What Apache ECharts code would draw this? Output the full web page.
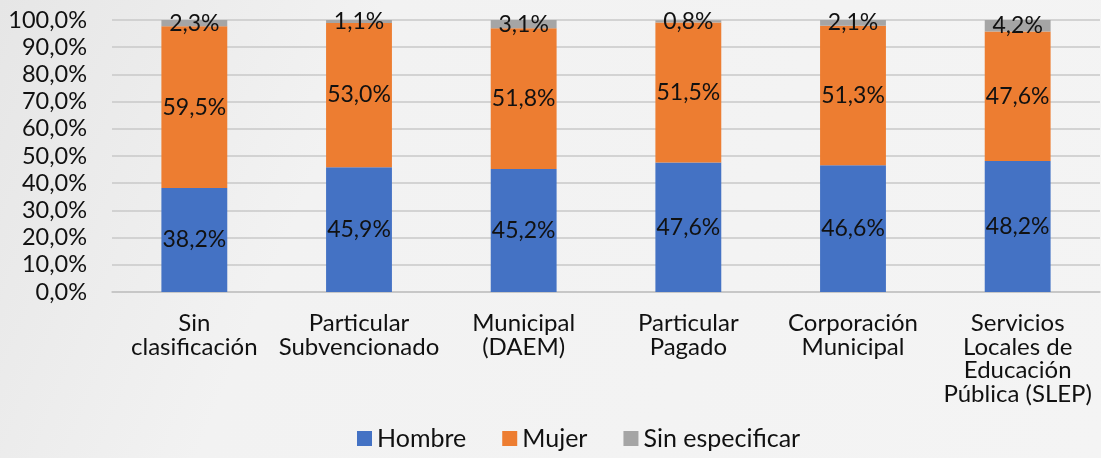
<!DOCTYPE html>
<html>
<head>
<meta charset="utf-8">
<script src="https://cdn.jsdelivr.net/npm/echarts@6/dist/echarts.min.js"></script>
<style>
  html, body { margin: 0; padding: 0; background: #f1f1f1; }
  #main { width: 1101px; height: 458px; }
</style>
</head>
<body>
<div id="main"></div>
<script>
const categories = [
  "Sin\nclasificación",
  "Particular\nSubvencionado",
  "Municipal\n(DAEM)",
  "Particular\nPagado",
  "Corporación\nMunicipal",
  "Servicios\nLocales de\nEducación\nPública (SLEP)"
];
const hombre = [38.2, 45.9, 45.2, 47.6, 46.6, 48.2];
const mujer = [59.5, 53.0, 51.8, 51.5, 51.3, 47.6];
const sinEspecificar = [2.3, 1.1, 3.1, 0.8, 2.1, 4.2];

const font = "Lato, 'Open Sans', sans-serif";
const pct = v => v.toFixed(1).replace(".", ",") + "%";

const chart = echarts.init(document.getElementById("main"));

function serie(name, data, color) {
  return {
    name: name,
    type: "bar",
    stack: "total",
    data: data,
    barWidth: "40%",
    itemStyle: { color: color },
    label: {
      show: true,
      position: "inside",
      color: "#111",
      fontFamily: font,
      fontSize: 23,
      formatter: p => pct(p.value)
    }
  };
}

chart.setOption({
  backgroundColor: {
    type: "linear", x: 0, y: 0, x2: 1, y2: 1,
    colorStops: [
      { offset: 0, color: "#e6e6e6" },
      { offset: 0.3, color: "#f2f2f2" },
      { offset: 1, color: "#f4f4f4" }
    ]
  },
  textStyle: { fontFamily: font },
  grid: { left: 112, right: 1, top: 20, bottom: 166 },
  legend: {
    bottom: 2,
    left: 352,
    itemWidth: 15,
    itemHeight: 15,
    itemGap: 36,
    icon: "rect",
    textStyle: { fontFamily: font, fontSize: 25, color: "#111" },
    data: ["Hombre", "Mujer", "Sin especificar"]
  },
  xAxis: {
    type: "category",
    data: categories,
    axisTick: { show: false },
    axisLine: { lineStyle: { color: "#c4c4c4", width: 1.5 } },
    axisLabel: {
      interval: 0,
      margin: 20,
      color: "#111",
      fontFamily: font,
      fontSize: 24,
      lineHeight: 23.5
    }
  },
  yAxis: {
    type: "value",
    min: 0,
    max: 100,
    interval: 10,
    axisLine: { show: false },
    axisTick: { show: false },
    splitLine: { lineStyle: { color: "#c8c8c8", width: 1.5 } },
    axisLabel: {
      margin: 25,
      color: "#111",
      fontFamily: font,
      fontSize: 23.5,
      formatter: v => pct(v)
    }
  },
  series: [
    serie("Hombre", hombre, "#4472c4"),
    serie("Mujer", mujer, "#ed7d31"),
    serie("Sin especificar", sinEspecificar, "#a5a5a5")
  ]
});
</script>
</body>
</html>
